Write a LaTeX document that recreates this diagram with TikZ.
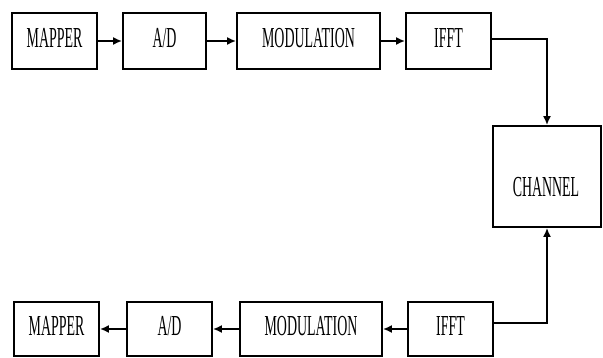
\documentclass[tikz,border=0pt]{standalone}
\usepackage{fontspec}
\setmainfont{Liberation Serif}[FakeStretch=0.48]
\usetikzlibrary{arrows.meta}
\begin{document}
\begin{tikzpicture}[x=1pt,y=-1pt,
  blk/.style={draw, line width=1.8pt, inner sep=0pt, minimum height=56pt, text depth=6pt, font=\fontsize{29}{32}\selectfont},
  conn/.style={line width=1.8pt, -{Latex[length=9pt,width=8pt]}}]
\useasboundingbox (0,0) rectangle (603,358);
\node[blk, minimum width=85pt] (map1) at (54.5,41) {MAPPER};
\node[blk, minimum width=83pt] (ad1) at (164.5,41) {A/D};
\node[blk, minimum width=143pt] (mod1) at (308.5,41) {MODULATION};
\node[blk, minimum width=85pt] (ifft1) at (448.5,41) {IFFT};
\node[blk, minimum width=108pt, minimum height=101pt] (ch) at (547,176.5) {};
\node[font=\fontsize{29}{32}\selectfont, inner sep=0pt] (chtext) at (546,187) {CHANNEL};
\node[blk, minimum width=85pt, minimum height=54pt] (map2) at (56.5,329) {MAPPER};
\node[blk, minimum width=85pt, minimum height=54pt] (ad2) at (169.5,329) {A/D};
\node[blk, minimum width=142pt, minimum height=54pt] (mod2) at (311,329) {MODULATION};
\node[blk, minimum width=85pt, minimum height=54pt] (ifft2) at (450.5,329) {IFFT};
\draw[conn] (map1) -- (ad1);
\draw[conn] (ad1) -- (mod1);
\draw[conn] (mod1) -- (ifft1);
\draw[conn] ([yshift=2pt]ifft1.east) -| (ch.north);
\draw[conn] ([yshift=6pt]ifft2.east) -| (ch.south);
\draw[conn] (ifft2) -- (mod2);
\draw[conn] (mod2) -- (ad2);
\draw[conn] (ad2) -- (map2);
\end{tikzpicture}
\end{document}
